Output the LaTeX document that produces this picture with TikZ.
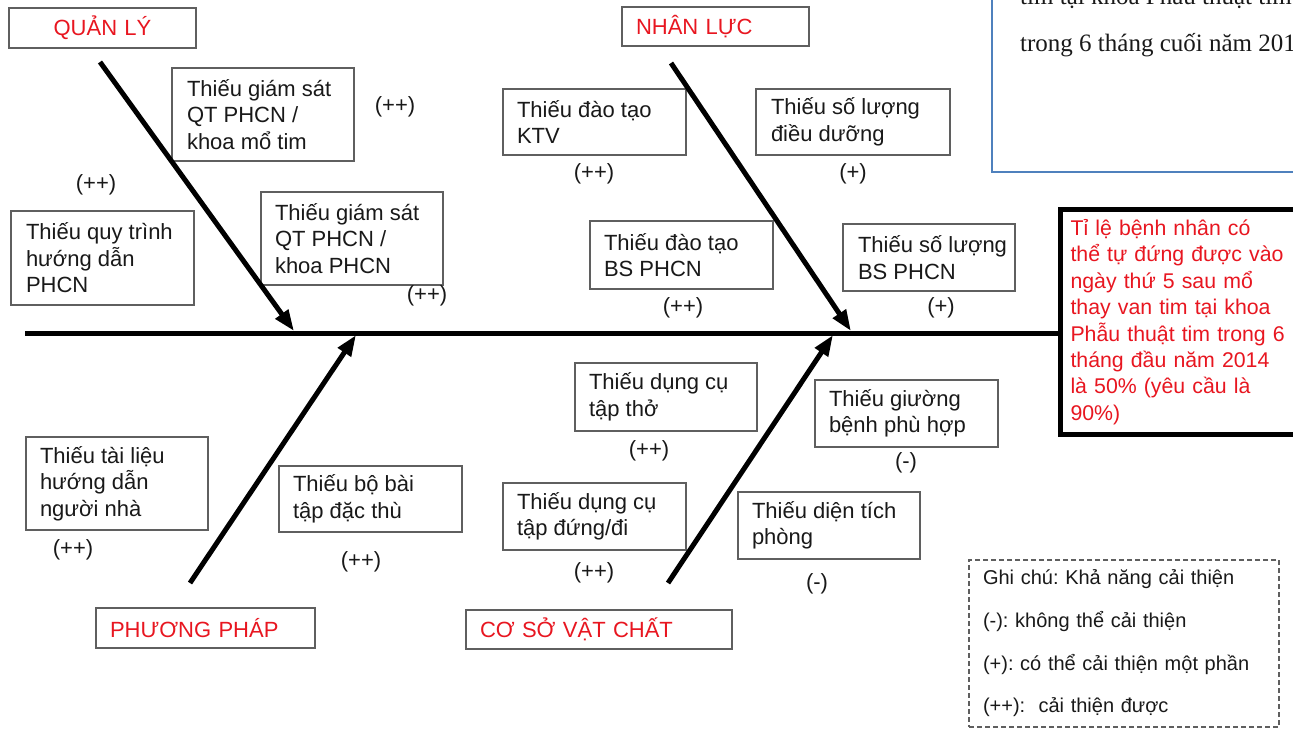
\documentclass[tikz,border=0pt]{standalone}
\usepackage{fontspec}
\setmainfont{Liberation Sans}
\newfontfamily\tnr{Liberation Serif}
\usetikzlibrary{arrows.meta}
\definecolor{catred}{RGB}{232,22,32}
\definecolor{boxgray}{RGB}{95,95,95}
\definecolor{noteblue}{RGB}{79,129,189}
\definecolor{ink}{RGB}{25,25,25}
\begin{document}
\frenchspacing
\begin{tikzpicture}[x=1pt,y=-1pt,
  boxbase/.style={draw=boxgray,line width=1.3pt,fill=white,inner sep=0pt,outer sep=0pt,anchor=north west},
  causetext/.style={inner sep=0pt,outer sep=0pt,align=left,anchor=west,text=ink,font={\fontsize{22}{26.5}\selectfont}},
  cat/.style={draw=boxgray,line width=1.5pt,fill=white,inner xsep=14pt,inner ysep=0pt,outer sep=0pt,align=left,anchor=north west,text=catred,font={\fontsize{22}{26.5}\selectfont}},
  score/.style={inner sep=0pt,text=ink,font={\fontsize{22}{26.5}\selectfont}},
  bone/.style={line width=5pt,-{Triangle[length=21pt,width=15pt]}},
  spine/.style={line width=5pt},
]
\useasboundingbox (0,0) rectangle (1293,731);
\clip (0,0) rectangle (1293,731);
\fill[white] (0,0) rectangle (1293,731);

% top-right note box (cut off)
\node[draw=noteblue,line width=2.5pt,inner sep=0pt,outer sep=0pt,minimum width=340pt,minimum height=220pt,anchor=south west] (note) at (992,172) {};
\node[inner sep=0pt,anchor=base west,text=ink,font={\tnr\fontsize{25}{29}\selectfont}] (note1) at (1020,4) {tim tại khoa Phẫu thuật tim};
\node[inner sep=0pt,anchor=base west,text=ink,font={\tnr\fontsize{25}{29}\selectfont}] (note2) at (1020,51) {trong 6 tháng cuối năm 2014};

% category boxes
\node[cat,align=center,text width=159pt,minimum height=40pt] (ql) at (9,8) {QUẢN LÝ};
\node[cat,text width=159pt,minimum height=39pt] (nl) at (622,7) {NHÂN LỰC};
\node[cat,text width=191pt,minimum height=40pt] (pp) at (96,608) {PHƯƠNG PHÁP};
\node[cat,text width=238pt,minimum height=39pt] (csvc) at (466,610) {CƠ SỞ VẬT CHẤT};

% cause boxes
\node[boxbase,minimum width=182pt,minimum height=93pt] (c1) at (172,68) {};
\node[causetext] (c1t) at ([xshift=15pt]c1.west) {Thiếu giám sát\\QT PHCN /\\khoa mổ tim};
\node[boxbase,minimum width=183pt,minimum height=94pt] (c2) at (11,211) {};
\node[causetext] (c2t) at ([xshift=15pt]c2.west) {Thiếu quy trình\\hướng dẫn\\PHCN};
\node[boxbase,minimum width=182pt,minimum height=93pt] (c3) at (261,192) {};
\node[causetext] (c3t) at ([xshift=14pt]c3.west) {Thiếu giám sát\\QT PHCN /\\khoa PHCN};
\node[boxbase,minimum width=183pt,minimum height=66pt] (c4) at (503,89) {};
\node[causetext] (c4t) at ([xshift=14pt]c4.west) {Thiếu đào tạo\\KTV};
\node[boxbase,minimum width=194pt,minimum height=66pt] (c5) at (756,89) {};
\node[causetext] (c5t) at ([xshift=15pt]c5.west) {Thiếu số lượng\\điều dưỡng};
\node[boxbase,minimum width=183pt,minimum height=68pt] (c6) at (590,221) {};
\node[causetext] (c6t) at ([xshift=14pt]c6.west) {Thiếu đào tạo\\BS PHCN};
\node[boxbase,minimum width=172pt,minimum height=67pt] (c7) at (843,224) {};
\node[causetext] (c7t) at ([xshift=15pt]c7.west) {Thiếu số lượng\\BS PHCN};
\node[boxbase,minimum width=182pt,minimum height=93pt] (c8) at (26,437) {};
\node[causetext] (c8t) at ([xshift=14pt]c8.west) {Thiếu tài liệu\\hướng dẫn\\người nhà};
\node[boxbase,minimum width=183pt,minimum height=66pt] (c9) at (279,466) {};
\node[causetext] (c9t) at ([xshift=14pt]c9.west) {Thiếu bộ bài\\tập đặc thù};
\node[boxbase,minimum width=182pt,minimum height=68pt] (c10) at (575,363) {};
\node[causetext] (c10t) at ([xshift=14pt]c10.west) {Thiếu dụng cụ\\tập thở};
\node[boxbase,minimum width=183pt,minimum height=67pt] (c11) at (815,380) {};
\node[causetext] (c11t) at ([xshift=14pt]c11.west) {Thiếu giường\\bệnh phù hợp};
\node[boxbase,minimum width=183pt,minimum height=67pt] (c12) at (503,483) {};
\node[causetext] (c12t) at ([xshift=14pt]c12.west) {Thiếu dụng cụ\\tập đứng/đi};
\node[boxbase,minimum width=182pt,minimum height=67pt] (c13) at (738,492) {};
\node[causetext] (c13t) at ([xshift=14pt]c13.west) {Thiếu diện tích\\phòng};

% improvement scores
\node[score] (s1) at (395,107) {(++)};
\node[score] (s2) at (96,185) {(++)};
\node[score] (s3) at (427,296) {(++)};
\node[score] (s4) at (594,174) {(++)};
\node[score] (s5) at (853,174) {(+)};
\node[score] (s6) at (683,308) {(++)};
\node[score] (s7) at (941,308) {(+)};
\node[score] (s8) at (73,550) {(++)};
\node[score] (s9) at (361,562) {(++)};
\node[score] (s10) at (649,451) {(++)};
\node[score] (s11) at (906,463) {(-)};
\node[score] (s12) at (594,573) {(++)};
\node[score] (s13) at (817,584) {(-)};

% effect box
\node[draw=black,line width=5pt,fill=white,inner xsep=10pt,inner ysep=0pt,outer sep=0pt,anchor=north west,
      text width=240pt,minimum height=225pt,align=left,text=catred,
      font={\fontsize{21.3}{26.4}\selectfont}] (eff) at (1060.5,209.5)
  {Tỉ lệ bệnh nhân có\\thể tự đứng được vào\\ngày thứ 5 sau mổ\\thay van tim tại khoa\\Phẫu thuật tim trong 6\\tháng đầu năm 2014\\là 50\% (yêu cầu là\\90\%)};

% legend
\node[draw=boxgray,line width=1.2pt,dash pattern=on 5pt off 3pt,inner xsep=14pt,inner ysep=0pt,outer sep=0pt,anchor=north west,
      text width=282pt,minimum height=167pt,align=left,text=ink,
      font={\fontsize{20}{42.7}\selectfont}] (legend) at (969,560)
  {Ghi chú: Khả năng cải thiện\\(-): không thể cải thiện\\(+): có thể cải thiện một phần\\(++):~ cải thiện được};

% spine and bones
\coordinate (spL) at (25,333);
\draw[spine] (spL) -- (spL -| eff.west);
\coordinate (qlS) at (100,62);
\coordinate (qlE) at (294,331);
\coordinate (nlS) at (671,63);
\coordinate (nlE) at (851,331);
\coordinate (ppS) at (190,583);
\coordinate (ppE) at (356,335);
\coordinate (csS) at (668,583);
\coordinate (csE) at (833,335);
\draw[bone] (qlS) -- (qlE);
\draw[bone] (nlS) -- (nlE);
\draw[bone] (ppS) -- (ppE);
\draw[bone] (csS) -- (csE);
\end{tikzpicture}
\end{document}
